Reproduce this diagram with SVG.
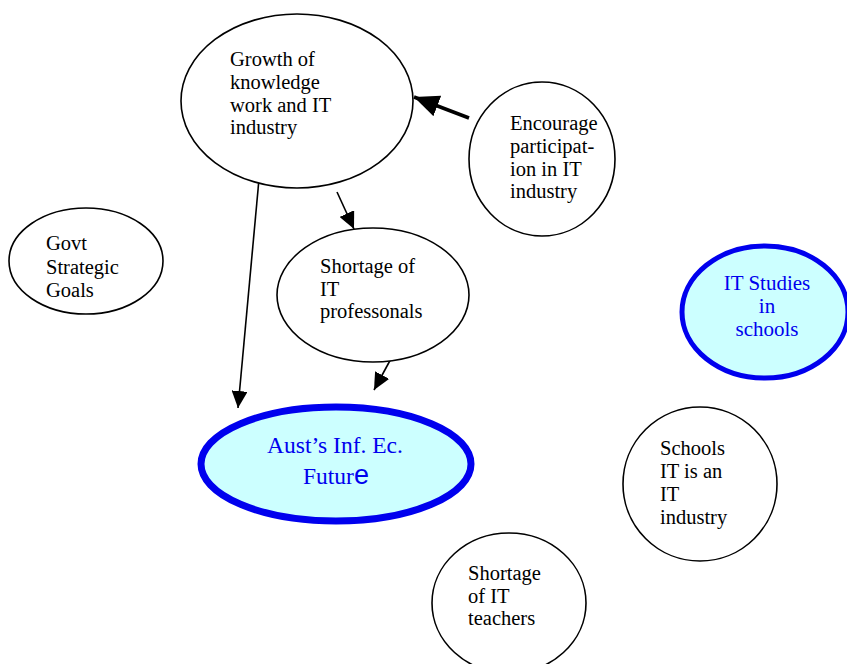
<svg xmlns="http://www.w3.org/2000/svg" width="847" height="664" viewBox="0 0 847 664">
<style>
.n{fill:#fff;stroke:#000;stroke-width:1.6}
.b{fill:#ccffff;stroke:#0000ee}
.t{font-family:"Liberation Serif","Times New Roman",serif;font-size:20.5px;fill:#000}
.bt{font-family:"Liberation Serif","Times New Roman",serif;fill:#0000ee}
.c{stroke:#000;stroke-width:1.6;fill:none}
</style>
<defs>
<marker id="a" markerUnits="userSpaceOnUse" markerWidth="18" markerHeight="16" refX="17" refY="8" orient="auto"><path d="M0,0 L17,8 L0,16 Z" fill="#000"/></marker>
<marker id="ab" markerUnits="userSpaceOnUse" markerWidth="26" markerHeight="22" refX="25" refY="11" orient="auto"><path d="M0,0 L25,11 L0,22 Z" fill="#000"/></marker>
</defs>
<rect width="847" height="664" fill="#fff"/>
<g id="connectors">
<line class="c" x1="259" y1="179" x2="238" y2="408" marker-end="url(#a)"/>
<line class="c" x1="337" y1="192" x2="354" y2="229" marker-end="url(#a)"/>
<line class="c" x1="393" y1="355" x2="374" y2="390" marker-end="url(#a)"/>
<line class="c" style="stroke-width:3.5" x1="469" y1="118" x2="414" y2="97" marker-end="url(#ab)"/>
</g>
<g id="growth">
<ellipse class="n" cx="297" cy="101" rx="116" ry="87"/>
<text class="t"><tspan x="230" y="66">Growth of</tspan><tspan x="230" y="89">knowledge</tspan><tspan x="230" y="112">work and IT</tspan><tspan x="230" y="134">industry</tspan></text>
</g>
<g id="encourage">
<ellipse class="n" cx="542" cy="159" rx="73" ry="77"/>
<text class="t"><tspan x="510" y="130">Encourage</tspan><tspan x="510" y="153">participat-</tspan><tspan x="510" y="176">ion in  IT</tspan><tspan x="510" y="198">industry</tspan></text>
</g>
<g id="govt">
<ellipse class="n" cx="86" cy="261" rx="77" ry="53"/>
<text class="t"><tspan x="46" y="250">Govt</tspan><tspan x="46" y="274">Strategic</tspan><tspan x="46" y="297">Goals</tspan></text>
</g>
<g id="shortage-prof">
<ellipse class="n" cx="373" cy="295" rx="96" ry="67"/>
<text class="t"><tspan x="320" y="273">Shortage of</tspan><tspan x="320" y="296">IT</tspan><tspan x="320" y="318">professonals</tspan></text>
</g>
<g id="it-studies">
<ellipse class="b" style="stroke-width:5" cx="765" cy="312" rx="83" ry="66"/>
<text class="bt" font-size="21" text-anchor="middle"><tspan x="767" y="290">IT Studies</tspan><tspan x="767" y="313">in</tspan><tspan x="767" y="336">schools</tspan></text>
</g>
<g id="aust">
<ellipse class="b" style="stroke-width:7" cx="336" cy="464" rx="135" ry="57"/>
<text class="bt" font-size="23.5" text-anchor="middle"><tspan x="335" y="453">Aust’s Inf. Ec.</tspan></text>
<text class="bt" font-size="23.5" x="303" y="484">Futur<tspan font-family="Liberation Sans,Arial,sans-serif" font-size="27">e</tspan></text>
</g>
<g id="schools-it">
<ellipse class="n" cx="700" cy="484" rx="77" ry="77"/>
<text class="t"><tspan x="660" y="455">Schools</tspan><tspan x="660" y="478">IT is an</tspan><tspan x="660" y="501">IT</tspan><tspan x="660" y="524">industry</tspan></text>
</g>
<g id="shortage-teachers">
<ellipse class="n" cx="509" cy="603" rx="77" ry="70"/>
<text class="t"><tspan x="468" y="580">Shortage</tspan><tspan x="468" y="603">of IT</tspan><tspan x="468" y="625">teachers</tspan></text>
</g>
</svg>
